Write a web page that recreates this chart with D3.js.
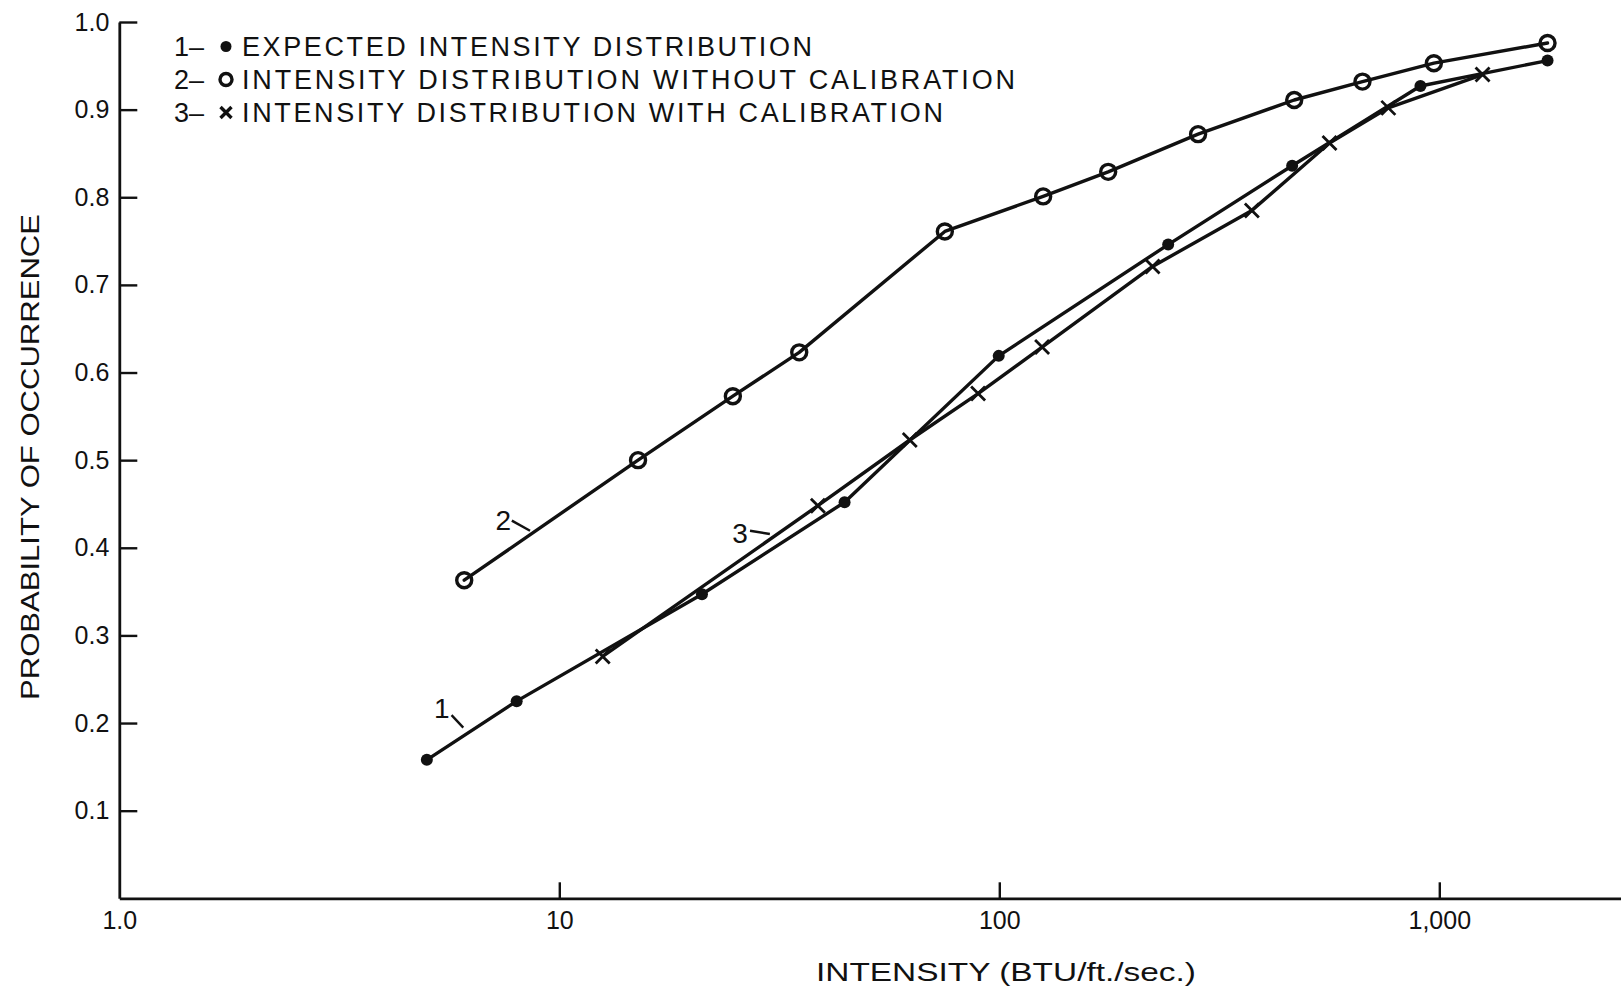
<!DOCTYPE html>
<html>
<head>
<meta charset="utf-8">
<script src="https://cdn.jsdelivr.net/npm/d3@7"></script>
<style>
  html, body { margin: 0; padding: 0; background: #fff; }
  svg { display: block; }
  text { font-family: "Liberation Sans", Arial, Helvetica, sans-serif; fill: #111; }
</style>
</head>
<body>
<svg id="chart" width="1621" height="988"></svg>
<script>
// ---------- data ----------
const xTickValues = [1, 10, 100, 1000];
const xTickLabels = ["1.0", "10", "100", "1,000"];
const yTickValues = [0.1, 0.2, 0.3, 0.4, 0.5, 0.6, 0.7, 0.8, 0.9, 1.0];
const yTickLabels = ["0.1", "0.2", "0.3", "0.4", "0.5", "0.6", "0.7", "0.8", "0.9", "1.0"];

// 1 - expected intensity distribution (filled dots)
const expectedX = [5.0, 8.0, 21.1, 44.5, 99.7, 242, 463, 906, 1762];
const expectedY = [0.158, 0.225, 0.347, 0.452, 0.619, 0.746, 0.836, 0.927, 0.956];

// 2 - without calibration (open circles)
const withoutX = [6.08, 15.1, 24.8, 35.1, 75.2, 125.8, 176.8, 283, 468, 669, 972, 1762];
const withoutY = [0.363, 0.500, 0.573, 0.623, 0.761, 0.801, 0.829, 0.872, 0.911, 0.932, 0.953, 0.976];

// 3 - with calibration (crosses)
const withX = [12.55, 38.7, 62.6, 89.5, 125.1, 223, 375, 563, 766, 1254];
const withY = [0.276, 0.448, 0.523, 0.576, 0.629, 0.721, 0.785, 0.862, 0.902, 0.940];

const legendLabels = [
  "EXPECTED INTENSITY DISTRIBUTION",
  "INTENSITY DISTRIBUTION WITHOUT CALIBRATION",
  "INTENSITY DISTRIBUTION WITH CALIBRATION"
];
const xTitle = "INTENSITY (BTU/ft./sec.)";
const yTitle = "PROBABILITY OF OCCURRENCE";

// curve labels "1", "2", "3" with leader lines, in data units
const curveLabels = ["1", "2", "3"];
const curveLabelX = [5.41, 7.46, 25.75];
const curveLabelY = [0.217, 0.431, 0.4165];
const leaderX1 = [5.69, 7.80, 27.13];
const leaderY1 = [0.209, 0.431, 0.4195];
const leaderX2 = [6.05, 8.58, 30.1];
const leaderY2 = [0.1947, 0.4195, 0.4157];

// ---------- layout ----------
const svg = d3.select("#chart");
const ink = "#111";
const x = d3.scaleLog().domain([1, 2588]).range([119.3, 1621]);
const y = d3.scaleLinear().domain([0, 1]).range([898.3, 22]);

// axes
const xAxis = d3.axisBottom(x)
  .tickValues(xTickValues)
  .tickFormat((d, i) => xTickLabels[i])
  .tickSizeInner(-16).tickSizeOuter(0).tickPadding(13);
const gx = svg.append("g").attr("transform", `translate(0,${y(0)})`).call(xAxis);
gx.select(".domain").attr("stroke", ink).attr("stroke-width", 2.8);
gx.selectAll(".tick line").attr("stroke", ink).attr("stroke-width", 2.4);
gx.selectAll(".tick").filter(d => d === 1).select("line").remove();
gx.selectAll(".tick text").attr("font-size", 25).attr("fill", ink)
  .style("font-family", '"Liberation Sans", Arial, sans-serif');

const yAxis = d3.axisLeft(y)
  .tickValues(yTickValues)
  .tickFormat((d, i) => yTickLabels[i])
  .tickSizeInner(-18).tickSizeOuter(0).tickPadding(10);
const gy = svg.append("g").attr("transform", `translate(${x(1)},0)`).call(yAxis);
gy.select(".domain").attr("stroke", ink).attr("stroke-width", 2.8);
gy.selectAll(".tick line").attr("stroke", ink).attr("stroke-width", 2.4);
gy.selectAll(".tick text").attr("font-size", 25).attr("fill", ink)
  .style("font-family", '"Liberation Sans", Arial, sans-serif');

// axis titles
svg.append("text")
  .attr("x", 1006).attr("y", 972)
  .attr("text-anchor", "middle").attr("dominant-baseline", "central")
  .attr("font-size", 26)
  .attr("textLength", 380).attr("lengthAdjust", "spacingAndGlyphs")
  .text(xTitle);
svg.append("text")
  .attr("transform", "translate(30,457) rotate(-90)")
  .attr("text-anchor", "middle").attr("dominant-baseline", "central")
  .attr("font-size", 26)
  .attr("textLength", 486).attr("lengthAdjust", "spacingAndGlyphs")
  .text(yTitle);

// lines
const line = d3.line().x(d => x(d[0])).y(d => y(d[1]));
const s1 = expectedX.map((v, i) => [v, expectedY[i]]);
const s2 = withoutX.map((v, i) => [v, withoutY[i]]);
const s3 = withX.map((v, i) => [v, withY[i]]);
[s1, s2, s3].forEach(s => {
  svg.append("path").datum(s).attr("d", line)
    .attr("fill", "none").attr("stroke", ink).attr("stroke-width", 3.4)
    .attr("stroke-linejoin", "round").attr("stroke-linecap", "round");
});

// markers
svg.append("g").selectAll("circle").data(s1).join("circle")
  .attr("cx", d => x(d[0])).attr("cy", d => y(d[1])).attr("r", 6).attr("fill", ink);
svg.append("g").selectAll("circle").data(s2).join("circle")
  .attr("cx", d => x(d[0])).attr("cy", d => y(d[1])).attr("r", 7.5)
  .attr("fill", "none").attr("stroke", ink).attr("stroke-width", 3.4);
const cs = 7;
svg.append("g").selectAll("path").data(s3).join("path")
  .attr("d", d => {
    const cx = x(d[0]), cy = y(d[1]);
    return `M${cx - cs},${cy - cs}L${cx + cs},${cy + cs}M${cx - cs},${cy + cs}L${cx + cs},${cy - cs}`;
  })
  .attr("stroke", ink).attr("stroke-width", 2.8).attr("fill", "none");

// curve labels
curveLabels.forEach((t, i) => {
  svg.append("text")
    .attr("x", x(curveLabelX[i])).attr("y", y(curveLabelY[i]))
    .attr("text-anchor", "middle").attr("dominant-baseline", "central")
    .attr("font-size", 28).text(t);
  svg.append("line")
    .attr("x1", x(leaderX1[i])).attr("y1", y(leaderY1[i]))
    .attr("x2", x(leaderX2[i])).attr("y2", y(leaderY2[i]))
    .attr("stroke", ink).attr("stroke-width", 2.4);
});

// legend
const legX = 174, legSymX = 226, legTextX = 242;
const legBase = [56, 89, 122];
const legEnd = [812, 1015, 943];
legendLabels.forEach((t, i) => {
  const g = svg.append("g");
  g.append("text").attr("x", legX).attr("y", legBase[i])
    .attr("font-size", 27).text(`${i + 1}–`);
  const sy = legBase[i] - 9.5;
  if (i === 0) {
    g.append("circle").attr("cx", legSymX).attr("cy", sy).attr("r", 5.5).attr("fill", ink);
  } else if (i === 1) {
    g.append("circle").attr("cx", legSymX).attr("cy", sy).attr("r", 6)
      .attr("fill", "none").attr("stroke", ink).attr("stroke-width", 3.4);
  } else {
    const k = 5.5;
    g.append("path")
      .attr("d", `M${legSymX - k},${sy - k}L${legSymX + k},${sy + k}M${legSymX - k},${sy + k}L${legSymX + k},${sy - k}`)
      .attr("stroke", ink).attr("stroke-width", 3.4);
  }
  g.append("text").attr("x", legTextX).attr("y", legBase[i])
    .attr("font-size", 27)
    .attr("textLength", legEnd[i] - legTextX).attr("lengthAdjust", "spacing")
    .text(t);
});
</script>
</body>
</html>
